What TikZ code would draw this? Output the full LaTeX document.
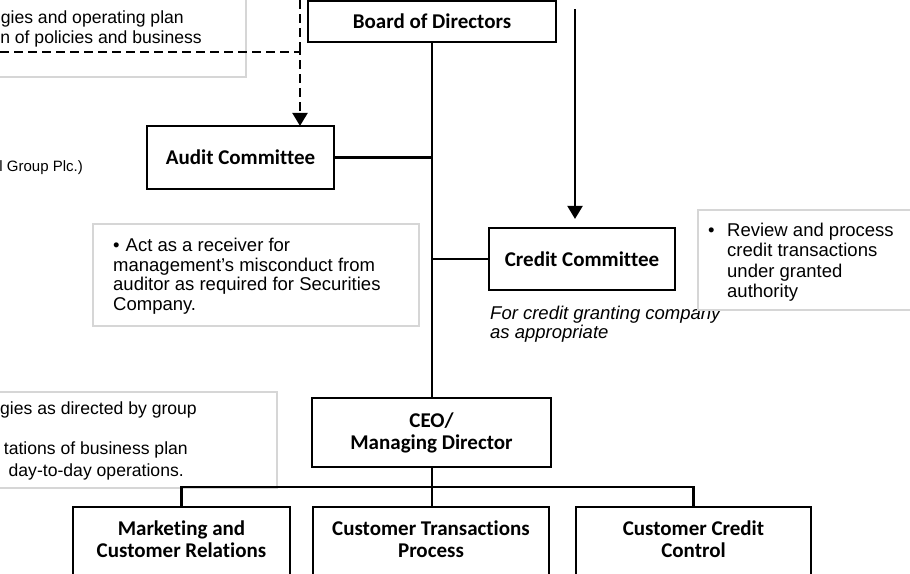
\documentclass[tikz,border=0pt]{standalone}
\usepackage{fontspec}
\setmainfont{Liberation Sans}
\newfontfamily\orgfont[Ligatures=NoCommon]{Carlito}
\usetikzlibrary{arrows.meta}
\definecolor{notegray}{HTML}{D6D6D6}
\begin{document}
\begin{tikzpicture}[x=1pt,y=-1pt,
  orgbox/.style={draw=black, line width=2.1pt, fill=white, inner sep=0pt,
    font=\orgfont\bfseries\fontsize{21}{22}\selectfont, align=center},
  orgtext/.style={inner sep=0pt, font=\orgfont\bfseries\fontsize{21}{22}\selectfont, align=center},
  notebox/.style={draw=notegray, line width=2pt, fill=white, inner sep=0pt},
  notetext/.style={inner sep=0pt, font=\fontsize{18.5}{20}\selectfont},
  cuttext/.style={inner sep=0pt, font=\fontsize{17.6}{20}\selectfont},
  conn/.style={line width=2.1pt, draw=black},
  dashconn/.style={line width=2.1pt, draw=black, dash pattern=on 9pt off 5pt},
  tip/.style={-{Triangle[length=13pt,width=15pt]}}
]
\useasboundingbox (0,0) rectangle (910,573);
\clip (0,0) rectangle (910,573);
\fill[white] (0,0) rectangle (910,573);

% note boxes (left side)
\node[notebox, anchor=south east, minimum width=270, minimum height=100] (n1) at (247,78) {};
\node[cuttext, anchor=base east] (n1a) at (184,23) {gies and operating plan};
\node[cuttext, anchor=base east] (n1b) at (202,43) {n of policies and business};

\node[cuttext, anchor=base east, font=\fontsize{15}{17}\selectfont] (grp) at (83,171) {l Group Plc.)};

\node[notebox, anchor=north west, minimum width=326, minimum height=102] (n2) at (92,223) {};
\node[notetext, anchor=base west] (n2a) at (113,251.5) {\textbullet\hspace{6pt}Act as a receiver for};
\node[notetext, anchor=base west] (n2b) at (113,271) {management’s misconduct from};
\node[notetext, anchor=base west] (n2c) at (113,290.5) {auditor as required for Securities};
\node[notetext, anchor=base west] (n2d) at (113,310) {Company.};

\node[notebox, anchor=north east, minimum width=300, minimum height=96] (n4) at (278,391) {};
\node[cuttext, anchor=base east] (n4a) at (197,414) {gies as directed by group};
\node[cuttext, anchor=base east] (n4b) at (188,454) {tations of business plan};
\node[cuttext, anchor=base east] (n4c) at (184,476) {day-to-day operations.};

% italic remark, then right note box on top of it
\node[notetext, anchor=base west, font=\itshape\fontsize{18.5}{20}\selectfont] (rem1) at (490,319) {For credit granting company};
\node[notetext, anchor=base west, font=\itshape\fontsize{18.5}{20}\selectfont] (rem2) at (490,338) {as appropriate};

\node[notebox, anchor=north west, minimum width=240, minimum height=100] (n3) at (697,209) {};
\node[notetext, anchor=base west] (n3bul) at (708,236) {\textbullet};
\node[notetext, anchor=base west] (n3a) at (727,236) {Review and process};
\node[notetext, anchor=base west] (n3b) at (727,256.5) {credit transactions};
\node[notetext, anchor=base west] (n3c) at (727,277) {under granted};
\node[notetext, anchor=base west] (n3d) at (727,297) {authority};

% organisation boxes
\node[orgbox, minimum width=248, minimum height=41] (board) at (432,21.5) {Board of Directors};
\node[orgbox, minimum width=187, minimum height=63] (audit) at (240.5,157.5) {Audit Committee};
\node[orgbox, minimum width=186, minimum height=62] (credit) at (582,259) {Credit Committee};
\node[orgbox, minimum width=239, minimum height=69] (ceo) at (431.5,432.5) {CEO/\\Managing Director};

\node[orgbox, anchor=north, minimum width=217, minimum height=100] (mkt) at (181.5,506) {};
\node[orgbox, anchor=north, minimum width=236, minimum height=100] (ctp) at (431,506) {};
\node[orgbox, anchor=north, minimum width=235, minimum height=100] (ccc) at (693.5,506) {};
\node[orgtext] (mktt) at (181.5,539.5) {Marketing and\\Customer Relations};
\node[orgtext] (ctpt) at (431,539.5) {Customer Transactions\\Process};
\node[orgtext] (ccct) at (693.5,539.5) {Customer Credit\\Control};

% connectors
\coordinate (spine) at (432,0);
\draw[conn] (spine |- board.south) -- (spine |- ceo.north);
\draw[conn] (audit.east) -- (audit.east -| spine);
\draw[conn] (credit.west) -- (credit.west -| spine);
\draw[conn] (spine |- ceo.south) -- (spine |- ctp.north);
\draw[conn] (mkt.north) -- ++(0,-19) -| (ccc.north);

\coordinate (credtop) at (575,9);
\draw[conn, tip, shorten >=8pt] (credtop) -- (credtop |- credit.north);

\coordinate (dtop) at (300,0);
\coordinate (dleft) at (0,52);
\draw[dashconn] (dtop) -- (dtop |- dleft);
\draw[dashconn, tip] (dleft) -| ([yshift=-1pt]audit.north -| dtop);
\end{tikzpicture}
\end{document}
